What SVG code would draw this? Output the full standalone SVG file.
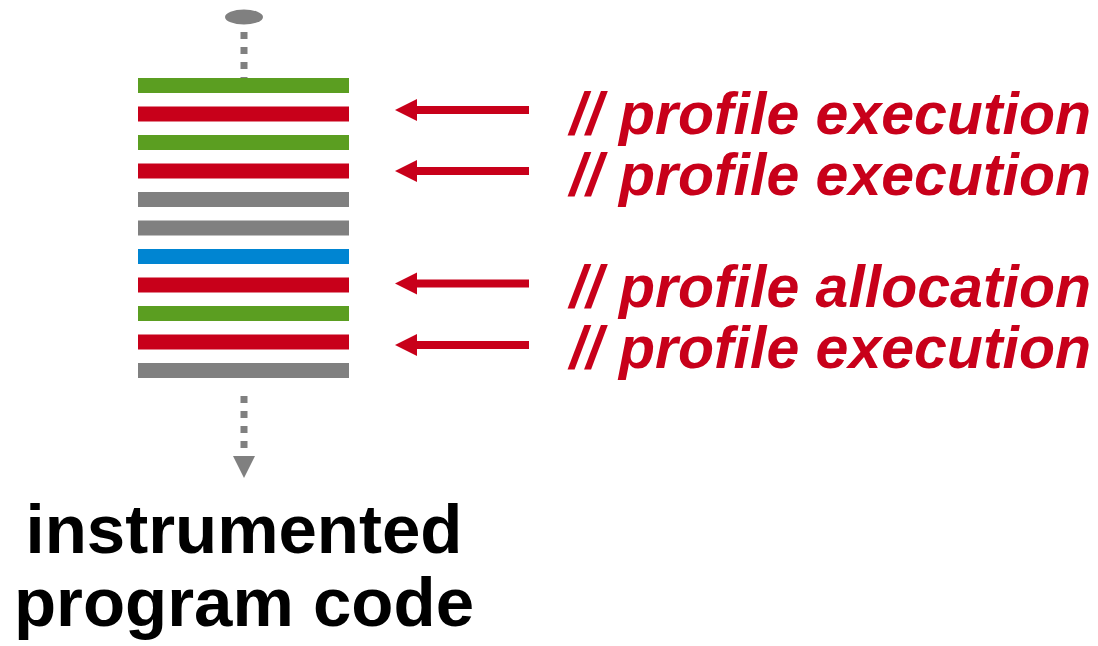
<svg xmlns="http://www.w3.org/2000/svg" width="1098" height="646" viewBox="0 0 1098 646">
  <style>
    .bar { stroke: none; }
    .green { fill: #5b9e21; }
    .red { fill: #c8001a; }
    .gray { fill: #808080; }
    .blue { fill: #0085d2; }
    .flow { stroke: #808080; stroke-width: 7; stroke-dasharray: 7 8; fill: none; }
    .probe { stroke: #c8001a; stroke-width: 8; fill: none; }
    .note { font-family: "Liberation Sans", Arial, sans-serif; font-weight: bold; font-style: italic; font-size: 59px; fill: #c8001a; text-anchor: end; }
    .caption { font-family: "Liberation Sans", Arial, sans-serif; font-weight: bold; font-size: 69px; fill: #000; text-anchor: middle; }
  </style>
  <defs>
    <marker id="redHead" markerUnits="userSpaceOnUse" markerWidth="24" markerHeight="24" refX="0" refY="11" orient="auto" viewBox="0 0 24 22">
      <path d="M0,0 L22,11 L0,22 Z" fill="#c8001a"/>
    </marker>
  </defs>

  <!-- program entry point -->
  <g id="entry">
    <ellipse cx="244" cy="17" rx="19" ry="7.5" fill="#808080"/>
  </g>

  <!-- code blocks of the program -->
  <g id="code">
    <rect class="bar green" x="138" y="78" width="211" height="15"/>
    <rect class="bar red" x="138" y="106.5" width="211" height="15"/>
    <rect class="bar green" x="138" y="135" width="211" height="15"/>
    <rect class="bar red" x="138" y="163.5" width="211" height="15"/>
    <rect class="bar gray" x="138" y="192" width="211" height="15"/>
    <rect class="bar gray" x="138" y="220.5" width="211" height="15"/>
    <rect class="bar blue" x="138" y="249" width="211" height="15"/>
    <rect class="bar red" x="138" y="277.5" width="211" height="15"/>
    <rect class="bar green" x="138" y="306" width="211" height="15"/>
    <rect class="bar red" x="138" y="334.5" width="211" height="15"/>
    <rect class="bar gray" x="138" y="363" width="211" height="15"/>
  </g>

  <!-- control flow and probe arrows -->
  <g id="connectors">
    <line class="flow" x1="244" y1="32" x2="244" y2="78"/>
    <line class="flow" x1="244" y1="396" x2="244" y2="456"/>
    <path d="M233,456 L255,456 L244,478 Z" fill="#808080"/>
    <line class="probe" x1="529" y1="110" x2="417" y2="110" marker-end="url(#redHead)"/>
    <line class="probe" x1="529" y1="171" x2="417" y2="171" marker-end="url(#redHead)"/>
    <line class="probe" x1="529" y1="283.5" x2="417" y2="283.5" marker-end="url(#redHead)"/>
    <line class="probe" x1="529" y1="345" x2="417" y2="345" marker-end="url(#redHead)"/>
  </g>

  <!-- instrumentation comments -->
  <g id="notes">
    <text class="note" x="1091" y="134">// profile execution</text>
    <text class="note" x="1091" y="195">// profile execution</text>
    <text class="note" x="1091" y="307">// profile allocation</text>
    <text class="note" x="1091" y="368">// profile execution</text>
  </g>

  <g id="caption">
    <text class="caption" x="244" y="553">instrumented</text>
    <text class="caption" x="244" y="626">program code</text>
  </g>
</svg>
